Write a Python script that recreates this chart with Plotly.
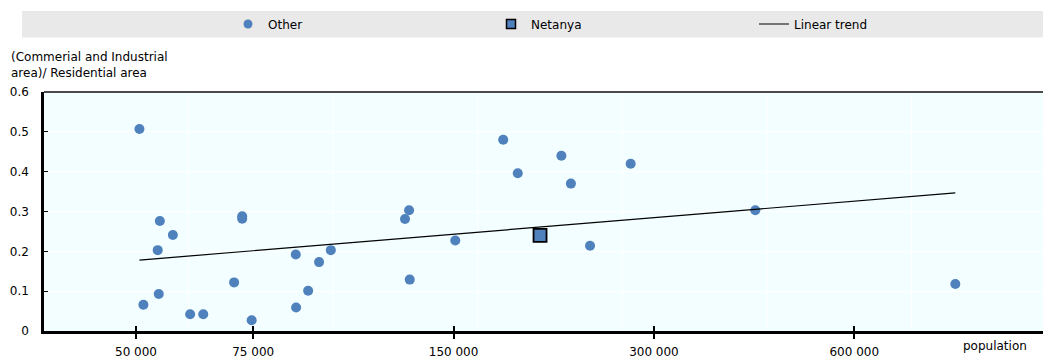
import plotly.graph_objects as go

# ---- data ----
other_pop = [50600, 54300, 56800, 53900, 72200, 72200, 86900, 94200, 98100, 70200,
             90700, 54100, 51300, 87000, 60300, 63100, 74600, 178100, 217800, 187300,
             225100, 276800, 128600, 126800, 150900, 240500, 128900, 426000, 851000]
other_ratio = [0.507, 0.276, 0.241, 0.203, 0.288, 0.282, 0.192, 0.173, 0.203, 0.122,
               0.101, 0.093, 0.066, 0.059, 0.042, 0.042, 0.027, 0.480, 0.440, 0.396,
               0.370, 0.420, 0.303, 0.281, 0.227, 0.214, 0.129, 0.303, 0.118]
netanya_pop = [202300]
netanya_ratio = [0.240]
trend_pop = [50600, 851000]
trend_ratio = [0.178, 0.347]

x_tickvals = [50000, 75000, 150000, 300000, 600000]
x_ticktext = ["50 000", "75 000", "150 000", "300 000", "600 000"]
y_tickvals = [0, 0.1, 0.2, 0.3, 0.4, 0.5, 0.6]
y_ticktext = ["0", "0.1", "0.2", "0.3", "0.4", "0.5", "0.6"]

FONT = "DejaVu Sans, Arial, sans-serif"
BLUE = "#4F81BD"
XRANGE = [4.56075, 6.06165]

fig = go.Figure()
fig.add_trace(go.Scatter(x=other_pop, y=other_ratio, mode="markers", name="Other",
                         showlegend=False,
                         marker=dict(color=BLUE, size=10, line=dict(width=0))))
fig.add_trace(go.Scatter(x=netanya_pop, y=netanya_ratio, mode="markers", name="Netanya",
                         showlegend=False,
                         marker=dict(color=BLUE, size=13, symbol="square",
                                     line=dict(color="black", width=1.8))))
fig.add_trace(go.Scatter(x=trend_pop, y=trend_ratio, mode="lines", name="Linear trend",
                         showlegend=False,
                         line=dict(color="black", width=1.2)))
# legend-only entries (smaller symbols, as in the reference legend)
fig.add_trace(go.Scatter(x=[None], y=[None], mode="markers", name="Other",
                         marker=dict(color=BLUE, size=9, line=dict(width=0))))
fig.add_trace(go.Scatter(x=[None], y=[None], mode="markers", name="Netanya",
                         marker=dict(color=BLUE, size=9, symbol="square",
                                     line=dict(color="black", width=1.5))))
fig.add_trace(go.Scatter(x=[None], y=[None], mode="lines", name="Linear trend",
                         line=dict(color="black", width=1.2)))
# empty trace to carry the inner half of the crossing x ticks
fig.add_trace(go.Scatter(x=[None], y=[None], xaxis="x2", showlegend=False,
                         hoverinfo="skip"))

L, R, T, B = 44, 0, 92, 29
W, H = 1043, 360
pw = W - L - R
ph = H - T - B

shapes = []
# vertical white gridlines (equal spacing)
for k in range(1, 7):
    xp = k * 144.6 / pw
    shapes.append(dict(type="line", xref="paper", yref="paper", x0=xp, x1=xp, y0=0, y1=1,
                       line=dict(color="white", width=1), layer="below"))
# top border
shapes.append(dict(type="line", xref="paper", yref="paper", x0=0, x1=1, y0=1, y1=1,
                   line=dict(color="#4a4a4a", width=2)))
# legend band
shapes.append(dict(type="rect", xref="paper", yref="paper",
                   x0=(22 - L) / pw, x1=1.0,
                   y0=(H - B - 37.5) / ph, y1=(H - B - 11) / ph,
                   fillcolor="#E9E9E9", line=dict(width=0), layer="below"))

fig.update_layout(
    width=W, height=H,
    margin=dict(l=L, r=R, t=T, b=B, pad=0, autoexpand=False),
    paper_bgcolor="white",
    plot_bgcolor="#F2FEFF",
    font=dict(family=FONT, size=12, color="black"),
    showlegend=True,
    legend=dict(orientation="h", x=(228 - L) / pw, xanchor="left",
                y=(H - B - 24) / ph, yanchor="middle",
                bgcolor="rgba(0,0,0,0)", font=dict(size=12, family=FONT),
                entrywidth=218, entrywidthmode="pixels", itemclick=False),
    shapes=shapes,
    xaxis=dict(type="log", range=XRANGE,
               tickvals=x_tickvals, ticktext=x_ticktext,
               showgrid=False, zeroline=False,
               showline=True, linecolor="black", linewidth=2.5,
               ticks="outside", ticklen=5, tickwidth=1.5, tickcolor="black",
               ticklabelstandoff=3,
               tickfont=dict(size=12, family=FONT)),
    xaxis2=dict(type="log", range=XRANGE, overlaying="x", anchor="y", side="bottom",
                tickvals=x_tickvals, showticklabels=False,
                showgrid=False, zeroline=False, showline=False,
                ticks="inside", ticklen=5, tickwidth=1.5, tickcolor="black"),
    yaxis=dict(range=[0, 0.6], tickvals=y_tickvals, ticktext=y_ticktext,
               showgrid=True, gridcolor="white", gridwidth=1,
               zeroline=False, showline=True, linecolor="black", linewidth=2.5,
               ticks="inside", ticklen=4, tickwidth=1, tickcolor="black",
               ticklabelstandoff=10,
               tickfont=dict(size=12, family=FONT)),
    annotations=[
        dict(text="(Commerial and Industrial<br>area)/ Residential area",
             xref="paper", yref="paper", x=(9 - L) / pw, y=(H - B - 65) / ph,
             xanchor="left", yanchor="middle", align="left", showarrow=False,
             font=dict(size=12, family=FONT)),
        dict(text="population", xref="paper", yref="paper",
             x=(995 - L) / pw, y=(H - B - 346) / ph,
             xanchor="center", yanchor="middle", showarrow=False,
             font=dict(size=12, family=FONT)),
    ],
)

fig.write_html("out.html", config={"displayModeBar": False},
               post_script="document.body.style.margin='0';document.body.style.padding='0';")
